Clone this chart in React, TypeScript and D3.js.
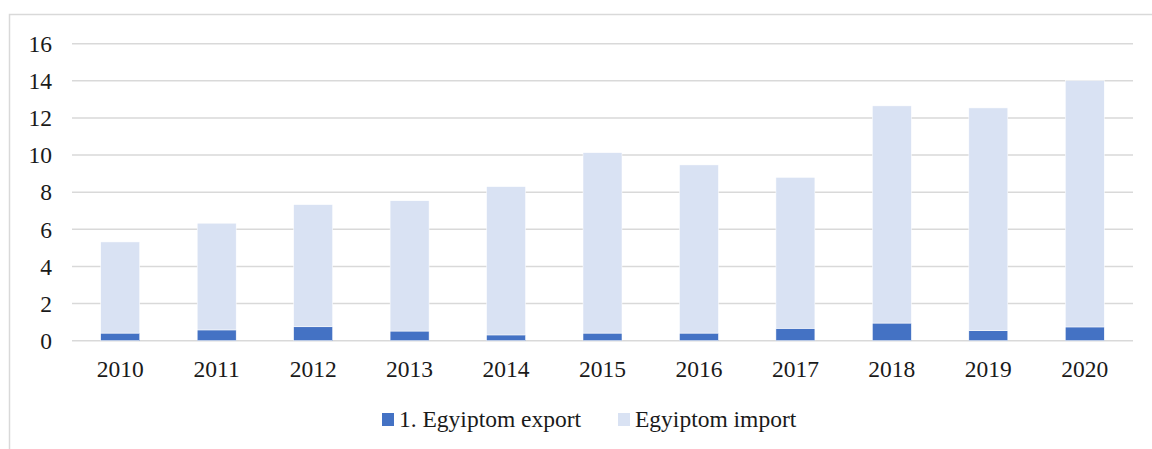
import * as d3 from 'd3';

const years = ['2010', '2011', '2012', '2013', '2014', '2015', '2016', '2017', '2018', '2019', '2020'];
const exportVals = [0.41, 0.58, 0.75, 0.52, 0.31, 0.41, 0.41, 0.67, 0.95, 0.54, 0.74];
const importVals = [4.91, 5.75, 6.58, 7.02, 7.99, 9.72, 9.06, 8.13, 11.7, 12.0, 13.27];
const yTicks = [0, 2, 4, 6, 8, 10, 12, 14, 16];
const seriesNames = ['1. Egyiptom export', 'Egyiptom import'];
const colors = ['#4472C4', '#D9E2F3'];

const W = 1152;
const H = 449;
const font = "'Liberation Serif', 'Times New Roman', Times, serif";

const App = () => {
  const x = d3.scaleBand<string>()
    .domain(years)
    .range([72, 1133])
    .paddingInner(0.596)
    .paddingOuter(0.298);

  const y = d3.scaleLinear().domain([0, 16]).range([340.7, 43.7]);

  const rows = years.map((yr, i) => ({ year: yr, exp: exportVals[i], imp: importVals[i] }));
  const stacked = d3.stack<any>().keys(['exp', 'imp'])(rows);

  const txt = { fontFamily: font, fontSize: '23.5px', fill: '#1a1a1a' };

  return (
    <svg width={W} height={H} style={{ position: 'absolute', left: 0, top: 0, background: '#fff' }}>
      <rect x={9.5} y={14.5} width={W + 20} height={H + 20} fill="#fff" stroke="#d9d9d9" strokeWidth={1.5} />

      {yTicks.map((t) => (
        <g key={t}>
          <line x1={72} x2={1133} y1={y(t)} y2={y(t)} stroke="#d9d9d9" strokeWidth={1.5} />
          <text x={52} y={y(t)} dy="0.35em" textAnchor="end" style={txt}>{t}</text>
        </g>
      ))}

      {stacked.map((s, si) => (
        <g key={s.key} fill={colors[si]}>
          {s.map((d: any) => (
            <rect key={d.data.year}
              x={x(d.data.year)}
              y={y(d[1])}
              width={x.bandwidth()}
              height={y(d[0]) - y(d[1])}
              stroke="#fff" strokeWidth={0.5} />
          ))}
        </g>
      ))}

      {years.map((yr) => (
        <text key={yr} x={(x(yr) as number) + x.bandwidth() / 2} y={377} textAnchor="middle"
          style={txt}>{yr}</text>
      ))}

      <g>
        <rect x={382} y={413} width={12} height={13} fill={colors[0]} />
        <text x={399} y={427} style={txt}>{seriesNames[0]}</text>
        <rect x={618} y={413} width={12} height={13} fill={colors[1]} />
        <text x={635} y={427} style={txt}>{seriesNames[1]}</text>
      </g>
    </svg>
  );
};

export default App;
